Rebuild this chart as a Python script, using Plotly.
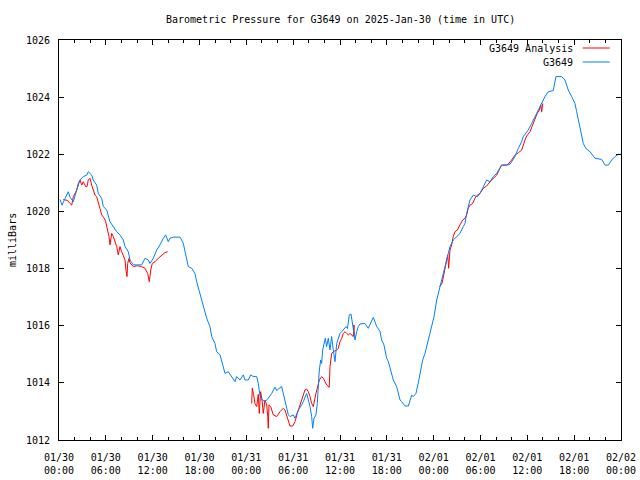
import pandas as pd
import plotly.graph_objects as go

# ---- data (hours after 2025-01-30 00:00 UTC, pressure in mb) ----
obs_hours = [0.13, 0.38, 0.77, 1.19, 1.41, 1.83, 2.27, 2.69, 3.11, 3.55, 3.75, 4.19, 4.39, 4.83, 5.03,
             5.47, 5.68, 6.11, 6.53, 6.96, 7.39, 7.81, 8.24, 8.46, 8.88, 9.10, 9.52, 9.95, 10.59, 11.02,
             11.44, 11.66, 12.08, 12.52, 12.94, 13.36, 13.67, 14.00, 14.22, 14.64, 15.50, 15.92, 16.14,
             16.56, 17.00, 17.42, 17.64, 18.06, 18.28, 18.70, 18.92, 19.34, 19.56, 19.98, 20.20, 20.63,
             20.84, 21.05, 21.27, 21.69, 22.12, 22.55, 22.76, 23.19, 23.61, 23.83, 24.25, 24.56, 24.89,
             25.33, 25.53, 25.75, 25.97, 26.39, 26.81, 27.25, 27.67, 27.89, 28.31, 28.53, 28.73, 28.95,
             29.17, 29.38, 29.59, 30.02, 30.23, 30.66, 31.09, 31.30, 31.73, 31.94, 32.16, 32.37, 32.50,
             32.67, 32.92, 33.09, 33.22, 33.35, 33.53, 33.65, 33.78, 33.95, 34.12, 34.29, 34.50, 34.72,
             34.93, 35.14, 35.36, 35.58, 35.78, 36.00, 36.22, 36.42, 36.77, 36.96, 37.19, 37.41, 37.54,
             37.70, 37.92, 38.14, 38.34, 38.56, 39.20, 39.62, 39.93, 40.26, 40.48, 40.70, 41.12, 41.34,
             41.63, 41.76, 41.98, 42.19, 42.40, 42.83, 43.26, 43.47, 43.69, 43.90, 44.11, 44.33, 44.75,
             44.97, 45.19, 45.39, 45.73, 46.03, 46.34, 46.59, 46.89, 47.11, 47.44, 47.75, 48.04, 48.39,
             48.81, 49.03, 49.23, 49.67, 49.88, 50.09, 50.51, 51.03, 51.37, 51.79, 52.01, 52.23, 52.65,
             53.08, 53.59, 53.93, 54.36, 54.79, 55.22, 55.64, 56.07, 56.71, 57.35, 57.78, 57.99, 58.41,
             58.84, 59.27, 59.48, 60.12, 60.56, 60.98, 61.40, 61.84, 62.26, 62.68, 63.32, 63.67, 64.40,
             64.82, 65.24, 65.68, 66.10, 66.32, 66.65, 66.96, 67.17, 67.51, 68.03, 68.67, 69.52, 69.95,
             70.37, 70.81, 71.23, 71.65, 72.00]
obs_mb = [1020.42, 1020.22, 1020.45, 1020.69, 1020.50, 1020.34, 1020.75, 1021.10, 1021.22, 1021.27,
          1021.39, 1021.27, 1021.10, 1020.92, 1020.63, 1020.46, 1020.17, 1020.05, 1019.64, 1019.47,
          1019.29, 1019.18, 1019.00, 1018.77, 1018.59, 1018.30, 1018.13, 1018.13, 1018.13, 1018.36,
          1018.30, 1018.18, 1018.36, 1018.65, 1018.83, 1019.06, 1019.18, 1018.94, 1019.06, 1019.10,
          1019.10, 1018.89, 1018.59, 1018.07, 1018.01, 1017.83, 1017.54, 1017.13, 1016.90, 1016.55,
          1016.26, 1015.97, 1015.62, 1015.38, 1015.09, 1014.98, 1014.74, 1014.51, 1014.33, 1014.39,
          1014.22, 1014.04, 1014.22, 1014.10, 1014.28, 1014.10, 1014.10, 1014.28, 1014.22, 1014.22,
          1013.98, 1013.55, 1013.42, 1013.34, 1013.46, 1013.63, 1013.85, 1013.73, 1013.83, 1013.87,
          1013.63, 1013.40, 1013.11, 1012.88, 1012.82, 1012.88, 1012.76, 1013.05, 1013.23, 1013.34,
          1013.63, 1013.40, 1013.17, 1012.82, 1012.41, 1012.76, 1012.88, 1013.28, 1013.87, 1014.45,
          1014.80, 1014.68, 1015.15, 1015.38, 1015.56, 1015.27, 1015.56, 1015.15, 1015.62, 1015.15,
          1014.74, 1015.38, 1015.56, 1015.73, 1015.79, 1015.85, 1015.97, 1015.90, 1016.38, 1016.41,
          1016.20, 1015.79, 1015.50, 1015.79, 1015.97, 1016.06, 1016.08, 1015.91, 1016.08, 1016.29,
          1016.14, 1015.97, 1015.80, 1015.50, 1015.33, 1015.12, 1014.86, 1014.75, 1014.55, 1014.10,
          1013.87, 1013.63, 1013.40, 1013.34, 1013.28, 1013.19, 1013.19, 1013.40, 1013.57, 1013.52,
          1013.63, 1014.00, 1014.45, 1014.80, 1015.03, 1015.27, 1015.62, 1015.97, 1016.31, 1016.90,
          1017.37, 1017.60, 1017.83, 1018.30, 1018.48, 1018.77, 1019.00, 1019.12, 1019.23, 1019.47,
          1019.58, 1019.93, 1020.40, 1020.57, 1020.51, 1020.63, 1020.87, 1021.10, 1021.04, 1021.22,
          1021.33, 1021.62, 1021.62, 1021.65, 1021.74, 1021.92, 1022.20, 1022.44, 1022.62, 1022.85,
          1023.08, 1023.32, 1023.55, 1023.78, 1024.02, 1024.19, 1024.23, 1024.72, 1024.72, 1024.60,
          1024.25, 1024.02, 1023.78, 1023.49, 1023.08, 1022.62, 1022.38, 1022.20, 1022.09, 1021.86,
          1021.82, 1021.62, 1021.62, 1021.80, 1021.92, 1022.00, 1022.00]

ana1_hours = [0.55, 1.11, 1.41, 1.63, 1.83, 2.27, 2.47, 2.69, 2.91, 3.11, 3.42, 3.59, 3.75, 3.97, 4.19,
              4.39, 4.61, 4.83, 5.03, 5.25, 5.47, 5.80, 5.98, 6.24, 6.41, 6.53, 6.75, 6.96, 7.17, 7.39,
              7.60, 7.81, 8.03, 8.24, 8.46, 8.58, 8.71, 8.80, 8.97, 9.10, 9.52, 10.06, 10.59, 11.02,
              11.36, 11.57, 11.75, 11.95, 12.30, 12.72, 13.16, 13.58, 13.93]
ana1_mb = [1020.42, 1020.38, 1020.28, 1020.22, 1020.51, 1020.75, 1020.98, 1021.10, 1020.92, 1021.04,
           1020.87, 1020.87, 1021.10, 1021.16, 1020.92, 1020.75, 1020.57, 1020.51, 1020.34, 1020.11,
           1019.88, 1019.76, 1019.64, 1019.35, 1019.12, 1018.83, 1019.23, 1019.12, 1018.94, 1018.77,
           1018.48, 1018.77, 1018.59, 1018.42, 1018.30, 1017.95, 1017.72, 1018.18, 1018.36, 1018.20,
           1018.07, 1018.10, 1018.07, 1018.01, 1017.83, 1017.54, 1017.95, 1018.18, 1018.24, 1018.36,
           1018.48, 1018.56, 1018.59]

ana2_hours = [24.69, 24.76, 24.92, 25.11, 25.33, 25.53, 25.66, 25.83, 26.01, 26.17, 26.39, 26.61, 26.74,
              26.81, 26.90, 27.12, 27.45, 27.89, 28.31, 28.73, 28.95, 29.17, 29.38, 29.59, 29.94, 30.23,
              30.53, 30.66, 30.87, 31.09, 31.30, 31.51, 31.73, 31.94, 32.16, 32.37, 32.58, 32.80, 32.92,
              33.09, 33.35, 33.65, 33.86, 34.08, 34.29, 34.62, 34.72, 34.93, 35.14, 35.58, 35.78, 36.00,
              36.22, 36.42, 36.64, 36.86, 37.07, 37.28, 37.50, 37.70, 37.79, 37.83]
ana2_mb = [1013.28, 1013.81, 1013.60, 1013.28, 1013.17, 1013.60, 1012.93, 1013.69, 1013.40, 1012.93,
           1013.40, 1013.23, 1012.82, 1012.41, 1013.23, 1013.17, 1012.88, 1012.82, 1012.99, 1013.11,
           1013.05, 1012.88, 1012.64, 1012.49, 1012.49, 1012.64, 1012.93, 1013.05, 1013.17, 1013.40,
           1013.57, 1013.75, 1013.78, 1013.69, 1013.52, 1013.28, 1013.17, 1013.40, 1013.63, 1013.81,
           1014.10, 1014.22, 1014.16, 1014.04, 1013.93, 1013.84, 1014.57, 1015.03, 1015.09, 1015.15,
           1015.20, 1015.44, 1015.56, 1015.73, 1015.79, 1015.73, 1015.68, 1015.73, 1015.68, 1015.62,
           1016.03, 1015.65]

ana3_hours = [48.72, 49.03, 49.16, 49.32, 49.54, 49.67, 49.80, 49.92, 50.00, 50.09, 50.31, 50.51, 50.73,
              51.03, 51.37, 51.72, 52.01, 52.23, 52.43, 52.65, 53.00, 53.29, 53.59, 53.93, 54.36, 54.79,
              55.22, 55.64, 56.07, 56.49, 56.71, 57.26, 57.52, 57.99, 58.41, 58.84, 59.27, 59.70, 59.91,
              60.34, 60.68, 60.98, 61.28, 61.54, 61.72, 61.84, 61.92, 61.97]
ana3_mb = [1017.37, 1017.45, 1017.60, 1017.83, 1018.01, 1018.24, 1018.48, 1018.01, 1018.40, 1018.65,
           1018.83, 1019.12, 1019.29, 1019.35, 1019.53, 1019.70, 1019.76, 1019.88, 1020.11, 1020.22,
           1020.28, 1020.46, 1020.57, 1020.63, 1020.81, 1020.89, 1021.04, 1021.16, 1021.27, 1021.51,
           1021.62, 1021.62, 1021.65, 1021.80, 1021.97, 1022.05, 1022.15, 1022.50, 1022.64, 1022.79,
           1023.03, 1023.26, 1023.44, 1023.55, 1023.73, 1023.49, 1023.73, 1023.78]

title_text = "Barometric Pressure for G3649 on 2025-Jan-30 (time in UTC)"
y_title = "milliBars"
series_names = ["G3649 Analysis", "G3649"]
series_colors = ["#ff0000", "#0080ff"]

base = pd.Timestamp("2025-01-30 00:00")


def to_time(hours):
    return [None if h is None else base + pd.Timedelta(hours=h) for h in hours]


ana_hours = ana1_hours + [None] + ana2_hours + [None] + ana3_hours
ana_mb = ana1_mb + [None] + ana2_mb + [None] + ana3_mb

FONT = "DejaVu Sans Mono"

fig = go.Figure()
fig.add_trace(go.Scatter(x=to_time(ana_hours), y=ana_mb, mode="lines", name=series_names[0],
                         line=dict(color=series_colors[0], width=1), connectgaps=False, showlegend=False))
fig.add_trace(go.Scatter(x=to_time(obs_hours), y=obs_mb, mode="lines", name=series_names[1],
                         line=dict(color=series_colors[1], width=1), showlegend=False))

# legend drawn gnuplot style (text right-aligned, sample line at right)
leg_y = [0.98, 0.945]
for i, (nm, col) in enumerate(zip(series_names, series_colors)):
    fig.add_annotation(x=0.918, y=leg_y[i], xref="paper", yref="paper", text=nm, showarrow=False,
                       xanchor="right", yanchor="middle", font=dict(family=FONT, size=10, color="black"))
    fig.add_shape(type="line", xref="paper", yref="paper", x0=0.932, x1=0.98, y0=leg_y[i], y1=leg_y[i],
                  line=dict(color=col, width=1))

fig.add_annotation(x=-0.0836, y=0.5, xref="paper", yref="paper", text=y_title, showarrow=False,
                   textangle=-90, xanchor="center", yanchor="middle",
                   font=dict(family=FONT, size=10, color="black"))
fig.add_annotation(x=0.5, y=(440 - 19) / 400, xref="paper", yref="paper", text=title_text, showarrow=False,
                   xanchor="center", yanchor="middle", font=dict(family=FONT, size=10, color="black"))

fig.update_layout(
    width=640, height=480, autosize=False,
    margin=dict(l=59, r=19, t=40, b=40),
    paper_bgcolor="white", plot_bgcolor="white",
    font=dict(family=FONT, size=10, color="black"),
)
fig.update_xaxes(
    type="date", automargin=False,
    range=[base, base + pd.Timedelta(hours=72)],
    tick0=base, dtick=6 * 3600 * 1000, tickformat="%m/%d<br>%H:%M",
    ticks="inside", ticklen=5, tickcolor="black", tickwidth=1,
    minor=dict(dtick=2 * 3600 * 1000, tick0=base, ticks="inside", ticklen=3, tickcolor="black", showgrid=False),
    showline=True, linecolor="black", linewidth=1, mirror="ticks",
    showgrid=False, zeroline=False,
    tickfont=dict(family=FONT, size=10, color="black"),
    ticklabelstandoff=8,
)
fig.update_yaxes(
    automargin=False,
    range=[1012, 1026], dtick=2, tick0=1012,
    ticks="inside", ticklen=5, tickcolor="black", tickwidth=1,
    showline=True, linecolor="black", linewidth=1, mirror="ticks",
    showgrid=False, zeroline=False,
    tickfont=dict(family=FONT, size=10, color="black"),
    ticklabelstandoff=6,
)

fig.write_html(
    "out.html",
    config={"displayModeBar": False},
    post_script="document.body.style.margin='0';document.body.style.overflow='hidden';",
)
